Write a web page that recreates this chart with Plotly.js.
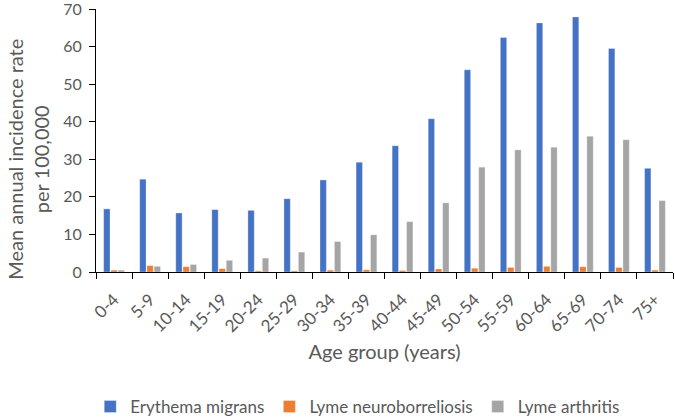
<!DOCTYPE html>
<html>
<head>
<meta charset="utf-8">
<script src="https://cdn.plot.ly/plotly-3.0.1.min.js"></script>
<style>html,body{margin:0;padding:0;background:#fff;}#chart{width:675px;height:417px;}</style>
</head>
<body>
<div id="chart"></div>
<script>
const ageGroups = ["0-4","5-9","10-14","15-19","20-24","25-29","30-34","35-39","40-44","45-49","50-54","55-59","60-64","65-69","70-74","75+"];
const erythemaMigrans = [16.8,24.7,15.7,16.6,16.4,19.5,24.5,29.2,33.6,40.8,53.8,62.4,66.3,67.9,59.5,27.6];
const lymeNeuroborreliosis = [0.5,1.7,1.4,0.9,0.3,0.3,0.5,0.6,0.4,0.8,1.0,1.2,1.5,1.4,1.2,0.5];
const lymeArthritis = [0.5,1.5,2.0,3.1,3.7,5.3,8.1,9.9,13.4,18.4,27.9,32.5,33.2,36.1,35.2,19.0];
const yTicks = [0,10,20,30,40,50,60,70];

const font = "Lato, Open Sans, sans-serif";
const grey = "#595959";
const mk = (name, y, color) => ({
  type: "bar", name: name, x: ageGroups, y: y,
  marker: {color: color, line: {color: "rgba(255,255,255,0.6)", width: 0.5}}
});
const data = [
  mk("Erythema migrans", erythemaMigrans, "#4472C4"),
  mk("Lyme neuroborreliosis", lymeNeuroborreliosis, "#ED7D31"),
  mk("Lyme arthritis", lymeArthritis, "#A5A5A5")
];
const layout = {
  width: 675, height: 417,
  margin: {l: 96, r: 2, t: 9, b: 145},
  paper_bgcolor: "#fff", plot_bgcolor: "#fff",
  barmode: "group", bargap: 0.4, bargroupgap: 0.12,
  font: {family: font, color: grey, size: 16},
  showlegend: true,
  legend: {orientation: "h", xref: "container", yref: "container", x: 0.53, xanchor: "center", y: 0.024, yanchor: "middle",
           font: {size: 17, color: grey}, itemwidth: 30, traceorder: "normal"},
  xaxis: {
    type: "category", showline: true, linecolor: "#000", linewidth: 1,
    ticks: "outside", tickson: "boundaries", ticklen: 6, tickcolor: "#000",
    tickangle: -45, tickfont: {size: 17, color: grey}, ticklabelstandoff: 10,
    showgrid: false, zeroline: false,
    title: {text: "Age group (years)", font: {size: 20, color: grey}, standoff: 9}
  },
  yaxis: {
    range: [0, 70], tickvals: yTicks, ticktext: yTicks.map(String), ticklabeloverflow: "allow",
    showline: true, linecolor: "#000", linewidth: 1,
    ticks: "outside", ticklen: 6, tickcolor: "#000", ticklabelstandoff: 4,
    showgrid: false, zeroline: false, tickfont: {size: 16, color: grey}
  },
  annotations: [{
    text: "Mean annual incidence rate<br>per 100,000", textangle: -90,
    xref: "paper", yref: "paper", x: -0.118, y: 0.43, xanchor: "center", yanchor: "middle",
    showarrow: false, font: {size: 20, color: grey, family: font}
  }]
};
Plotly.newPlot("chart", data, layout, {displayModeBar: false, staticPlot: true});
</script>
</body>
</html>
